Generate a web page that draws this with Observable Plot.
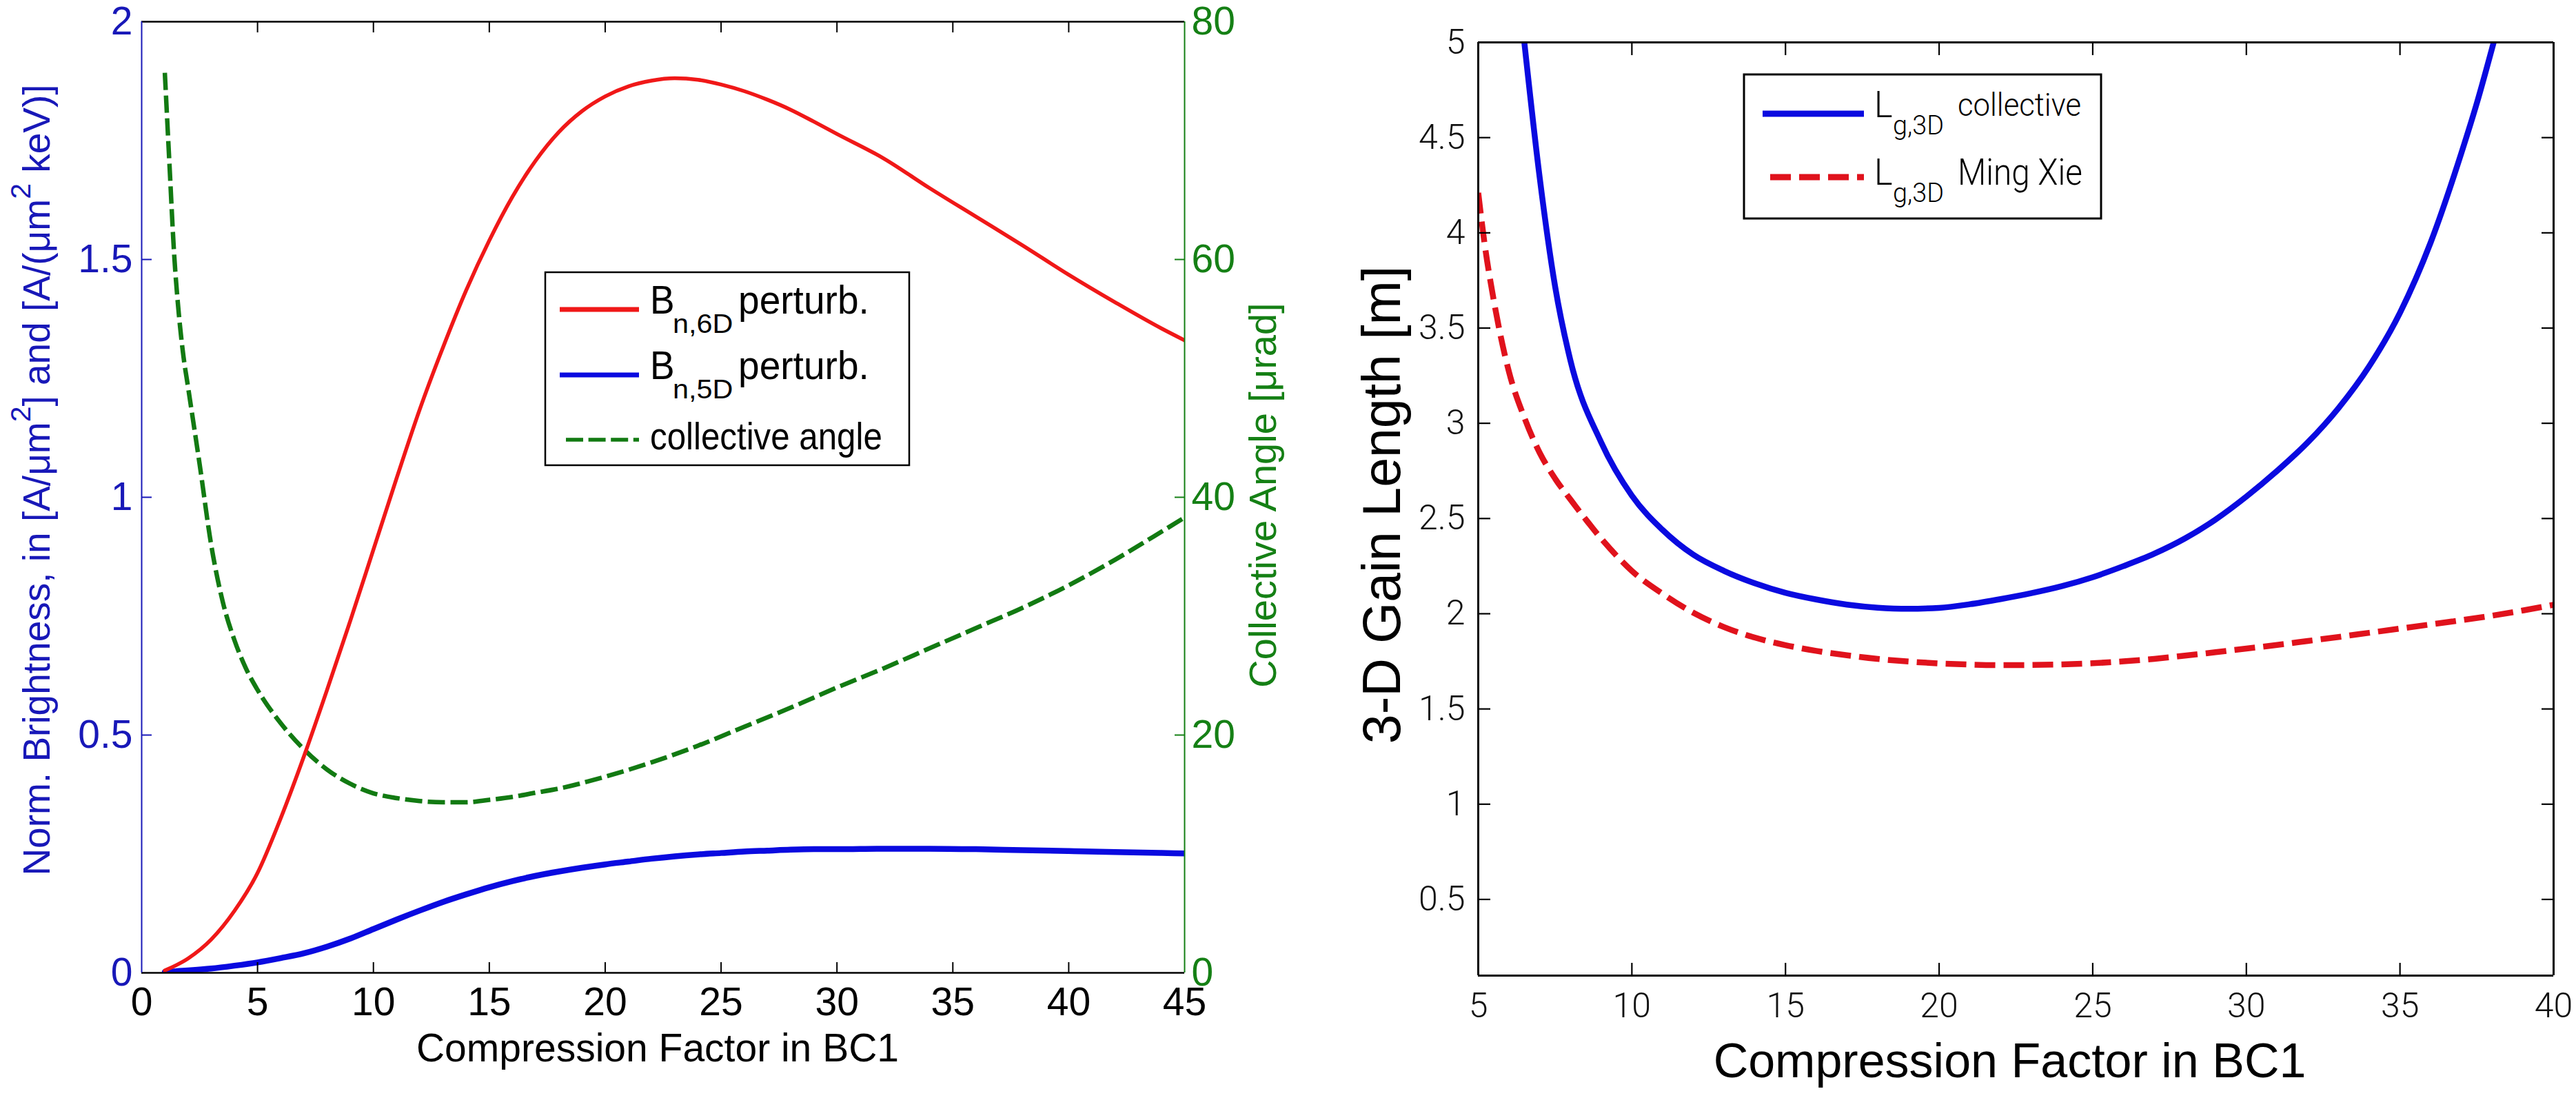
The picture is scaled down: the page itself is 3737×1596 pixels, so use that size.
<!DOCTYPE html>
<html><head><meta charset="utf-8">
<script src="https://cdn.jsdelivr.net/npm/d3@7"></script>
<script src="https://cdn.jsdelivr.net/npm/@observablehq/plot@0.6"></script>
<style>
html,body{margin:0;padding:0;background:#fff;}
body{width:3737px;height:1596px;overflow:hidden;position:relative;font-family:"Liberation Sans",Arial,sans-serif;}
#left{position:absolute;left:0;top:0;width:1870px;height:1596px;}
#right{position:absolute;left:1870px;top:0;width:1867px;height:1596px;}
#legend{position:absolute;left:0;top:0;}
</style></head>
<body>
<div id="left"></div><div id="right"></div>
<svg id="legend" width="3737" height="1596" xmlns="http://www.w3.org/2000/svg"></svg>
<script>
// ---------- data: left panel ----------
const brightX = [1,2,3,4,5,6,7,8,9,10,11,12,13,14,15,16,17,18,19,20,21,22,23,24,25,26,27,28,29,30,32,34,36,38,40,42,44,45];
const bright6D = [0.005,0.03,0.07,0.13,0.21,0.325,0.455,0.595,0.74,0.89,1.04,1.185,1.315,1.435,1.54,1.632,1.708,1.768,1.812,1.843,1.864,1.876,1.881,1.878,1.868,1.854,1.836,1.815,1.79,1.764,1.713,1.65,1.59,1.53,1.468,1.41,1.355,1.33];
const bright5D = [0.002,0.005,0.009,0.015,0.022,0.031,0.041,0.055,0.072,0.092,0.112,0.131,0.149,0.165,0.18,0.193,0.204,0.213,0.221,0.228,0.234,0.24,0.245,0.249,0.252,0.255,0.257,0.259,0.26,0.26,0.261,0.261,0.26,0.258,0.256,0.254,0.252,0.251];
const angleX = [1,1.2,1.4,1.6,1.8,2,2.5,3,3.5,4,4.5,5,6,7,8,9,10,11,12,13,14,15,16,17,18,20,22,24,26,28,30,32,34,36,38,40,42,44,45];
const angleVal = [75.7,68,60.5,55.5,51.9,49.3,42.8,36,31.2,28,25.6,23.8,21,18.8,17.1,15.9,15.1,14.7,14.45,14.35,14.35,14.55,14.8,15.15,15.5,16.5,17.7,19.1,20.7,22.3,24.0,25.6,27.3,29.0,30.7,32.6,34.75,37.1,38.3];
const leftXDomain = [0, 45];
const leftYDomain = [0, 2];
const angleDomain = [0, 80];
const leftXTicks = [0,5,10,15,20,25,30,35,40,45];
const leftYTicks = [0,0.5,1,1.5,2];
const angleTicks = [0,20,40,60,80];
const leftXTitle = "Compression Factor in BC1";
const leftYTitleParts = [["Norm. Brightness, in [A/\u03bcm",0],["2",1],["] and [A/(\u03bcm",0],["2",1],[" keV)]",0]];
const angleTitle = "Collective Angle [\u03bcrad]";

// ---------- data: right panel ----------
const collX = [6.5,7,7.5,8,9,10,11,12,13,14,15,16,17,18,19,20,21,22,23,24,25,26,27,28,29,30,31,32,33,34,35,36,37,37.5,38.05];
const collVal = [5.0,4.29,3.72,3.33,2.90,2.62,2.44,2.31,2.225,2.16,2.11,2.075,2.048,2.032,2.026,2.031,2.05,2.077,2.108,2.145,2.192,2.25,2.315,2.395,2.495,2.615,2.75,2.9,3.08,3.3,3.58,3.95,4.42,4.68,5.0];
const xieX = [5,5.2,5.5,6,6.5,7,7.5,8,8.5,9,9.5,10,11,12,13,14,15,16,17,18,19,20,21,22,23,24,25,26,27,28,29,30,31,32,33,34,35,36,37,38,39,40];
const xieVal = [4.21,3.95,3.65,3.27,3.03,2.845,2.71,2.60,2.495,2.395,2.305,2.225,2.105,2.005,1.93,1.875,1.835,1.805,1.782,1.763,1.749,1.739,1.733,1.73,1.731,1.734,1.74,1.75,1.763,1.78,1.798,1.817,1.836,1.857,1.878,1.9,1.922,1.944,1.966,1.99,2.017,2.047];
const rightXDomain = [5, 40];
const rightYDomain = [0.1, 5];
const rightXTicks = [5,10,15,20,25,30,35,40];
const rightYTicks = [0.5,1,1.5,2,2.5,3,3.5,4,4.5,5];
const rightXTitle = "Compression Factor in BC1";
const rightYTitle = "3-D Gain Length [m]";

// ---------- styles ----------
const FONT = "'Liberation Sans', Arial, sans-serif";
const THIN = "Roboto, 'Liberation Sans', Arial, sans-serif";
const RED = "#f01818", BLUE = "#0a0ae0", GREEN = "#127a12", RED2 = "#e0121c";
const BLUE_TX = "#1818b8", GREEN_TX = "#158015";
const fmt = d3.format("~g");

const ratio = (leftYDomain[1]-leftYDomain[0])/(angleDomain[1]-angleDomain[0]);
const toLeft = a => leftYDomain[0] + (a - angleDomain[0]) * ratio;
const fromLeft = y => angleDomain[0] + (y - leftYDomain[0]) / ratio;

const d6 = brightX.map((x,i)=>({x, y: bright6D[i]}));
const d5 = brightX.map((x,i)=>({x, y: bright5D[i]}));
const dA = angleX.map((x,i)=>({x, a: angleVal[i]}));
const dC = collX.map((x,i)=>({x, y: collVal[i]}));
const dX = xieX.map((x,i)=>({x, y: xieVal[i]}));
const inner = arr => arr.slice(1, -1);

const leftPlot = Plot.plot({
  width: 1870, height: 1596,
  marginLeft: 205, marginRight: 152, marginTop: 31, marginBottom: 185,
  style: {fontFamily: FONT, background: "white", maxWidth: "none", overflow: "visible"},
  x: {domain: leftXDomain, label: null},
  y: {domain: leftYDomain, label: null},
  marks: [
    Plot.line(dA, {x: "x", y: d => toLeft(d.a), stroke: GREEN, strokeWidth: 6.5, strokeDasharray: "25,8", strokeLinecap: "butt", curve: "monotone-x", clip: true}),
    Plot.line(d5, {x: "x", y: "y", stroke: BLUE, strokeWidth: 8.5, curve: "monotone-x", clip: true}),
    Plot.line(d6, {x: "x", y: "y", stroke: RED, strokeWidth: 5.5, curve: "monotone-x", clip: true}),
    Plot.ruleY([leftYDomain[1]], {stroke: "black", strokeWidth: 2.5}),
    Plot.ruleY([leftYDomain[0]], {stroke: "black", strokeWidth: 2.5}),
    Plot.ruleX([leftXDomain[0]], {stroke: BLUE_TX, strokeWidth: 2}),
    Plot.ruleX([leftXDomain[1]], {stroke: GREEN_TX, strokeWidth: 2}),
    Plot.axisX({ticks: inner(leftXTicks), anchor: "bottom", tickSize: 15, dy: -15, fill: "none", stroke: "black", strokeWidth: 2, label: null}),
    Plot.axisX({ticks: inner(leftXTicks), anchor: "top", tickSize: 15, dy: 15, fill: "none", stroke: "black", strokeWidth: 2, label: null}),
    Plot.axisY({ticks: inner(leftYTicks), anchor: "left", tickSize: 15, dx: 15, fill: "none", stroke: BLUE_TX, strokeWidth: 2, label: null}),
    Plot.axisY({ticks: inner(leftYTicks), anchor: "right", tickSize: 15, dx: -15, fill: "none", stroke: GREEN_TX, strokeWidth: 2, label: null}),
    Plot.axisX({ticks: leftXTicks, anchor: "bottom", tickSize: 0, tickPadding: 21, fontSize: 57, fill: "black", tickFormat: fmt, label: null}),
    Plot.axisY({ticks: leftYTicks, anchor: "left", tickSize: 0, tickPadding: 13, fontSize: 57, fill: BLUE_TX, tickFormat: fmt, label: null}),
    Plot.axisY({ticks: angleTicks.map(toLeft), anchor: "right", tickSize: 0, tickPadding: 10, fontSize: 57, fill: GREEN_TX, tickFormat: y => fmt(fromLeft(y)), label: null}),
    Plot.text([leftXTitle], {text: d => d, frameAnchor: "bottom", textAnchor: "middle", lineAnchor: "bottom", dx: -8, dy: 128, fontSize: 57, fill: "black"}),
    Plot.text([leftYTitleParts.map(p => p[0]).join("")], {text: d => d, frameAnchor: "left", rotate: -90, textAnchor: "middle", lineAnchor: "bottom", dx: -134, dy: -25, fontSize: 55, fill: BLUE_TX}),
    Plot.text([angleTitle], {text: d => d, frameAnchor: "right", rotate: -90, textAnchor: "middle", lineAnchor: "bottom", dx: 132, dy: -3, fontSize: 56, fill: GREEN_TX})
  ]
});
document.getElementById("left").appendChild(leftPlot);

// rebuild the left y title with real superscripts
const NS = "http://www.w3.org/2000/svg";
{
  const full = leftYTitleParts.map(p => p[0]).join("");
  const t = [...leftPlot.querySelectorAll("text")].find(e => e.textContent === full);
  if (t) {
    t.textContent = "";
    let shifted = false;
    for (const [s, sup] of leftYTitleParts) {
      const ts = document.createElementNS(NS, "tspan");
      ts.textContent = s;
      if (sup) { ts.setAttribute("font-size", 41); ts.setAttribute("dy", -28); shifted = true; }
      else if (shifted) { ts.setAttribute("dy", 28); shifted = false; }
      t.appendChild(ts);
    }
  }
}

const rightPlot = Plot.plot({
  width: 1867, height: 1596,
  marginLeft: 274, marginRight: 33, marginTop: 61, marginBottom: 181,
  style: {fontFamily: FONT, background: "white", maxWidth: "none", overflow: "visible"},
  x: {domain: rightXDomain, label: null},
  y: {domain: rightYDomain, label: null},
  marks: [
    Plot.line(dX, {x: "x", y: "y", stroke: RED2, strokeWidth: 8.5, strokeDasharray: "30,12", strokeLinecap: "butt", curve: "monotone-x", clip: true}),
    Plot.line(dC, {x: "x", y: "y", stroke: BLUE, strokeWidth: 8.5, curve: "monotone-x", clip: true}),
    Plot.ruleY([rightYDomain[1]], {stroke: "black", strokeWidth: 3}),
    Plot.ruleY([rightYDomain[0]], {stroke: "black", strokeWidth: 3}),
    Plot.ruleX([rightXDomain[0]], {stroke: "black", strokeWidth: 3}),
    Plot.ruleX([rightXDomain[1]], {stroke: "black", strokeWidth: 3}),
    Plot.axisX({ticks: inner(rightXTicks), anchor: "bottom", tickSize: 18, dy: -18, fill: "none", stroke: "black", strokeWidth: 2.2, label: null}),
    Plot.axisX({ticks: inner(rightXTicks), anchor: "top", tickSize: 18, dy: 18, fill: "none", stroke: "black", strokeWidth: 2.2, label: null}),
    Plot.axisY({ticks: rightYTicks.slice(0, -1), anchor: "left", tickSize: 18, dx: 18, fill: "none", stroke: "black", strokeWidth: 2.2, label: null}),
    Plot.axisY({ticks: rightYTicks.slice(0, -1), anchor: "right", tickSize: 18, dx: -18, fill: "none", stroke: "black", strokeWidth: 2.2, label: null}),
    Plot.axisX({ticks: rightXTicks, anchor: "bottom", tickSize: 0, tickPadding: 25, fontSize: 50, fontFamily: THIN, fontWeight: 300, fill: "#111", tickFormat: fmt, label: null}),
    Plot.axisY({ticks: rightYTicks, anchor: "left", tickSize: 0, tickPadding: 19, fontSize: 50, fontFamily: THIN, fontWeight: 300, fill: "#111", tickFormat: fmt, label: null}),
    Plot.text([rightXTitle], {text: d => d, frameAnchor: "bottom", textAnchor: "middle", lineAnchor: "bottom", dx: -9, dy: 147, fontSize: 70, fill: "black"}),
    Plot.text([rightYTitle], {text: d => d, frameAnchor: "left", rotate: -90, textAnchor: "middle", lineAnchor: "bottom", dx: -114, dy: -6, fontSize: 77, fill: "black"})
  ]
});
document.getElementById("right").appendChild(rightPlot);

// ---------- legends (overlay) ----------
const lg = document.getElementById("legend");
function el(tag, attrs, text) {
  const e = document.createElementNS(NS, tag);
  for (const k in attrs) e.setAttribute(k, attrs[k]);
  if (text != null) e.textContent = text;
  lg.appendChild(e);
  return e;
}
function txt(s, x, y, size, sx, family = FONT, weight = 400) {
  el("text", {transform: `translate(${x},${y}) scale(${sx},1)`, "font-size": size, "font-family": family, "font-weight": weight, fill: "black"}, s);
}
// left legend
el("rect", {x: 791, y: 395, width: 528, height: 280, fill: "white", stroke: "black", "stroke-width": 2.5});
el("line", {x1: 812, x2: 927, y1: 449, y2: 449, stroke: RED, "stroke-width": 7});
el("line", {x1: 812, x2: 927, y1: 544, y2: 544, stroke: BLUE, "stroke-width": 7});
el("line", {x1: 821, x2: 927, y1: 638, y2: 638, stroke: GREEN, "stroke-width": 5.5, "stroke-dasharray": "25,7.6"});
txt("B", 943, 455, 58, 0.92); txt("n,6D", 976, 483, 39, 1.06); txt("perturb.", 1071, 455, 58, 0.95);
txt("B", 943, 550, 58, 0.92); txt("n,5D", 976, 578, 39, 1.06); txt("perturb.", 1071, 550, 58, 0.95);
txt("collective angle", 943, 652, 56, 0.88);
// right legend
el("rect", {x: 2530, y: 108, width: 518, height: 209, fill: "white", stroke: "black", "stroke-width": 3});
el("line", {x1: 2557, x2: 2704, y1: 165, y2: 165, stroke: BLUE, "stroke-width": 9});
el("line", {x1: 2568, x2: 2704, y1: 257, y2: 257, stroke: RED2, "stroke-width": 9, "stroke-dasharray": "30,12"});
txt("L", 2719, 170, 53, 0.95, THIN, 300); txt("g,3D", 2746, 195, 39, 0.97, THIN, 300); txt("collective", 2840, 168, 46, 0.95, THIN, 300);
txt("L", 2719, 268, 53, 0.95, THIN, 300); txt("g,3D", 2746, 293, 39, 0.97, THIN, 300); txt("Ming Xie", 2840, 268, 53, 0.9, THIN, 300);
</script>
</body></html>
